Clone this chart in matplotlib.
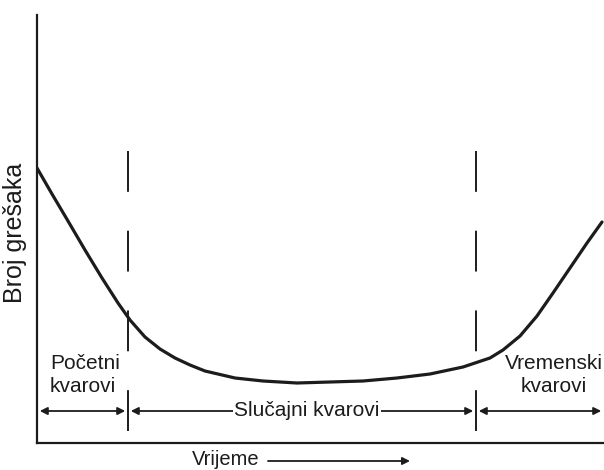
import matplotlib.pyplot as plt
import numpy as np

plt.rcParams['font.family'] = ['Liberation Sans', 'DejaVu Sans']

# bathtub curve (time, number of faults)
time = [0, 15, 31, 48, 65, 81, 93, 108, 123, 138, 153, 168, 198, 226,
        260, 293, 326, 360, 393, 426, 453, 466, 483, 500, 516, 533, 550, 565]
faults = [275, 249, 222, 193, 165, 140, 123, 106, 94, 85, 78, 72, 65, 62,
          60, 61, 62, 65, 69, 76, 85, 93, 107, 127, 150, 175, 200, 221]

# phase boundaries on the time axis
boundaries = [91, 439]
t_end = 567
phase_labels = ["Početni\nkvarovi", "Slučajni kvarovi", "Vremenski\nkvarovi"]

ink = "#1c1c1c"

fig = plt.figure(figsize=(6.04, 4.70), dpi=100)
ax = fig.add_axes([37 / 604, 27 / 470, 567 / 604, 428 / 470])
ax.set_xlim(0, t_end)
ax.set_ylim(0, 428)

for side in ["top", "right"]:
    ax.spines[side].set_visible(False)
for side in ["left", "bottom"]:
    ax.spines[side].set_linewidth(1.6)
    ax.spines[side].set_color(ink)
ax.set_xticks([])
ax.set_yticks([])

ax.plot(time, faults, color=ink, lw=2.3, solid_capstyle="round",
        solid_joinstyle="round")

# dashed phase separators, drawn from the top down
for b in boundaries:
    ax.plot([b, b], [292, 0], color=ink, lw=1.4, linestyle=(0, (21, 20)))

# phase arrows
arrow_y = 32
edges = [0] + boundaries + [t_end]
for i in range(3):
    ax.annotate("", xy=(edges[i + 1], arrow_y), xytext=(edges[i], arrow_y),
                arrowprops=dict(arrowstyle="<|-|>", color=ink, lw=1.3,
                                mutation_scale=11, shrinkA=2, shrinkB=2))

ax.text((edges[1] + edges[2]) / 2 + 5, arrow_y, phase_labels[1], fontsize=15,
        color=ink, ha="center", va="center",
        bbox=dict(facecolor="white", edgecolor="none", pad=1))
ax.text(13, 68, phase_labels[0], fontsize=15, color=ink, ha="left",
        va="center", linespacing=1.25)
ax.text(517, 68, phase_labels[2], fontsize=15, color=ink, ha="center",
        va="center", linespacing=1.25, multialignment="center")

# axis titles
ax.text(-22, 210, "Broj grešaka", fontsize=18, color=ink, rotation=90,
        ha="center", va="center", clip_on=False)
ax.text(155, -22, "Vrijeme", fontsize=14.5, color=ink, ha="left",
        va="baseline", clip_on=False)
ax.annotate("", xy=(373, -18), xytext=(231, -18), annotation_clip=False,
            arrowprops=dict(arrowstyle="-|>", color=ink, lw=1.3,
                            mutation_scale=11, shrinkA=0, shrinkB=0))

fig.savefig("out.png", dpi=100)
